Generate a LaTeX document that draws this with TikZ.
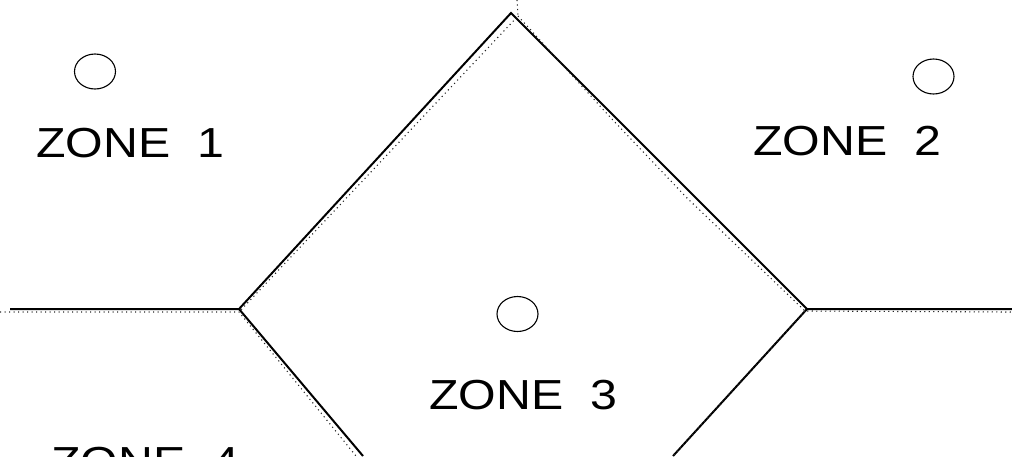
\documentclass[tikz,border=0pt]{standalone}
\usepackage{fontspec}
\setmainfont{Liberation Sans}
\tikzset{
  wall/.style={line width=2pt, line join=miter},
  trace/.style={line width=1.1pt, black!85, dash pattern=on 1.1pt off 3.4pt},
  hole/.style={ellipse, draw, line width=1.1pt, minimum width=41pt, minimum height=35pt, inner sep=0pt},
  zone/.style={inner sep=0pt, font=\fontsize{42}{42}\selectfont}
}
\usetikzlibrary{shapes.geometric}
\newcommand{\zonetext}[1]{\scalebox{1.15}[1]{#1}}
\begin{document}
\begin{tikzpicture}[x=1pt,y=-1pt]
\useasboundingbox (0,0) rectangle (1012,456);
\clip (0,0) rectangle (1012,456);
% solid boundaries
\coordinate (apex) at (511,13);
\coordinate (lv) at (239,309);
\coordinate (rv) at (807,309);
\coordinate (lend) at (10,309);
\coordinate (rend) at (1012,309);
\coordinate (lbot) at (363,456);
\coordinate (rbot) at (673,456);
\draw[wall] (lend) -- (lv) -- (apex) -- (rv) -- (rend);
\draw[wall] (lv) -- (lbot);
\draw[wall] (rv) -- (rbot);
% dotted traces
\coordinate (dtop) at (517,0);
\coordinate (dapex) at (518,16);
\coordinate (dlv) at (239,312);
\coordinate (drv) at (805,311);
\draw[trace] (0,312) -- (dlv) -- (356,456);
\draw[trace] (dtop) -- (dapex) -- (dlv);
\draw[trace] (dapex) -- (610,117) -- (687,198) -- (drv) -- (1012,312);
\draw[trace] (drv) -- (712,413) -- (673,456);
% holes
\node[hole] (h1) at (95,71.5) {};
\node[hole] (h2) at (933.5,76.5) {};
\node[hole] (h3) at (517.5,314) {};
% labels
\node[zone] (z1) at (130,143) {\zonetext{ZONE\ \ 1}};
\node[zone] (z2) at (847,141.5) {\zonetext{ZONE\ \ 2}};
\node[zone] (z3) at (523,395) {\zonetext{ZONE\ \ 3}};
\node[zone, anchor=north west] (z4) at (51,447) {\zonetext{ZONE\ \ 4}};
\end{tikzpicture}
\end{document}
